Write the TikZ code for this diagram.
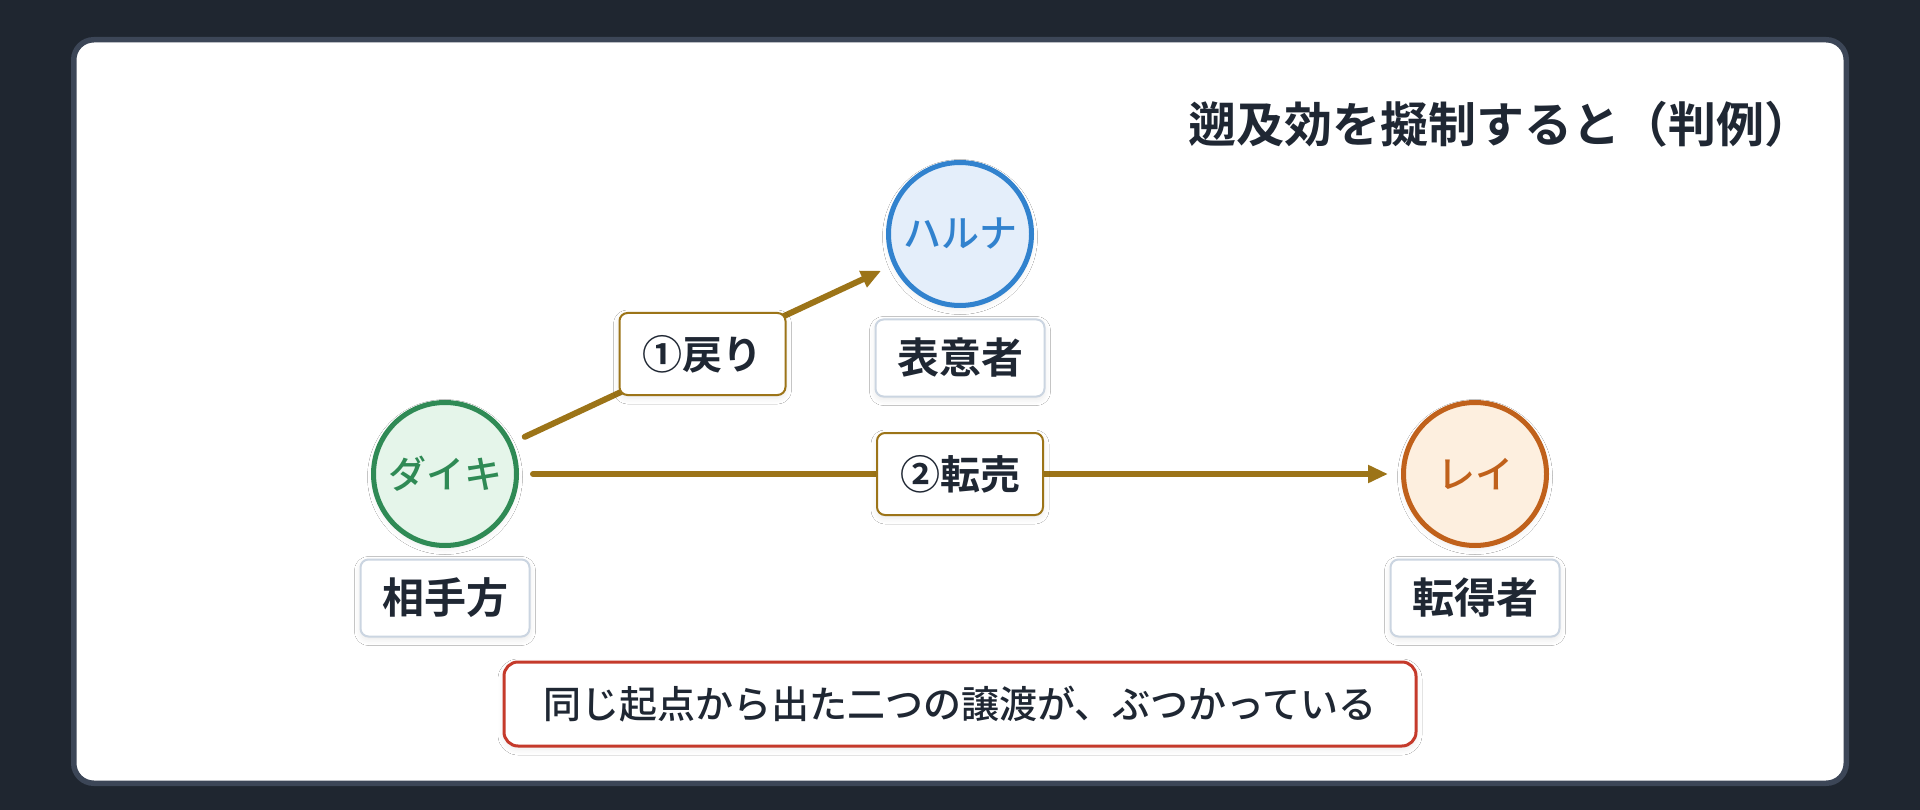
\documentclass[tikz,border=0pt]{standalone}
\usepackage{fontspec}
\setmainfont{Noto Sans CJK JP}
\newfontfamily\jpm{Noto Sans CJK JP Medium}
\newfontfamily\jpb{Noto Sans CJK JP Bold}
\usetikzlibrary{arrows.meta,shadows.blur}
\definecolor{bgc}{HTML}{1F2630}
\definecolor{cardb}{HTML}{3C4657}
\definecolor{ink}{HTML}{1F2733}
\definecolor{gold}{HTML}{9C7418}
\definecolor{rolec}{HTML}{CBD5E1}
\definecolor{redc}{HTML}{C53A2B}
\definecolor{blueb}{HTML}{3182CE}
\definecolor{bluef}{HTML}{E4EEFA}
\definecolor{greenb}{HTML}{2F8A55}
\definecolor{greenf}{HTML}{E5F5EA}
\definecolor{orangeb}{HTML}{C0611B}
\definecolor{orangef}{HTML}{FDEFDF}
\begin{document}
\begin{tikzpicture}[x=1pt,y=-1pt,
  softshadow/.style={blur shadow={shadow xshift=0pt,shadow yshift=-3pt,shadow blur radius=6pt,shadow opacity=9}},
  person/.style={circle,line width=5pt,minimum size=143pt,inner sep=0pt,softshadow,font=\jpm\fontsize{38}{42}\selectfont},
  role/.style={rectangle,rounded corners=8pt,draw=rolec,line width=2pt,fill=white,minimum width=169pt,minimum height=77pt,inner sep=0pt,text=ink,softshadow,font=\jpb\fontsize{42}{48}\selectfont},
  elabel/.style={rectangle,rounded corners=8pt,draw=gold,line width=2pt,fill=white,minimum width=166pt,minimum height=82pt,inner sep=0pt,text=ink,softshadow,font=\jpb\fontsize{40}{46}\selectfont},
  conn/.style={draw=gold,line width=6pt,line cap=round,-{Triangle[length=20pt,width=17pt]},shorten <=14pt,shorten >=13pt},
  notebox/.style={rectangle,rounded corners=14pt,draw=redc,line width=3pt,fill=white,minimum width=912pt,minimum height=84pt,inner sep=0pt,text=ink,softshadow,font=\jpm\fontsize{38}{44}\selectfont},
  titletext/.style={anchor=east,inner sep=0pt,text=ink,font=\jpb\fontsize{48}{56}\selectfont}
]
\useasboundingbox[fill=bgc] (0,0) rectangle (1920,810);
\draw[fill=white,draw=cardb,line width=5.5pt,rounded corners=20pt] (73.75,39.75) rectangle (1846.25,783.25);

\node[titletext] (title) at (1813,124) {遡及効を擬制すると（判例）};

\node[person,draw=greenb,fill=greenf,text=greenb] (daiki) at (445,474) {ダイキ};
\node[person,draw=blueb,fill=bluef,text=blueb] (haruna) at (960,234) {ハルナ};
\node[person,draw=orangeb,fill=orangef,text=orangeb] (rei) at (1475,474) {レイ};

\node[role] (daikirole) at (445,598) {相手方};
\node[role] (harunarole) at (960,358) {表意者};
\node[role] (reirole) at (1475,598) {転得者};

\draw[conn] (daiki) -- (haruna) node[elabel,midway] (lbl1) {①戻り};
\draw[conn] (daiki) -- (rei) node[elabel,midway] (lbl2) {②転売};

\node[notebox] (note) at (960,704) {同じ起点から出た二つの譲渡が、ぶつかっている};
\end{tikzpicture}
\end{document}
